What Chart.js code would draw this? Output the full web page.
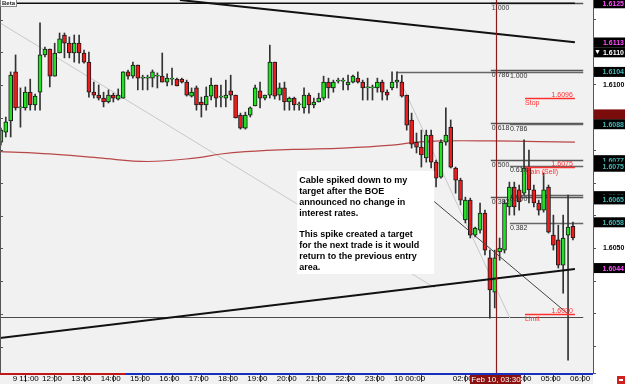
<!DOCTYPE html>
<html>
<head>
<meta charset="utf-8">
<script src="https://cdn.jsdelivr.net/npm/chart.js@4.4.1/dist/chart.umd.min.js"></script>
<style>
  html, body { margin: 0; padding: 0; background: #fff; }
  canvas { display: block; }
</style>
</head>
<body>
<canvas id="cable" width="625" height="384"></canvas>
<script>
// ===== DATA =====
// GBP/USD 10 minute candles, 9 Feb 10:40 -> 10 Feb 06:10 (x = candle number)
const opens = [
  1.60825, 1.60856, 1.60890, 1.61040, 1.60930, 1.60930, 1.60978, 1.60939, 1.60978, 1.61092,
  1.61110, 1.61027, 1.61098, 1.61153, 1.61128, 1.61098, 1.61128, 1.61098, 1.61070, 1.60978,
  1.60969, 1.60960, 1.60948, 1.60969, 1.60957, 1.60960, 1.61040, 1.61027, 1.61061, 1.61021,
  1.61021, 1.61021, 1.61027, 1.61027, 1.61009, 1.61018, 1.61018, 1.61018, 1.61009, 1.60966,
  1.60991, 1.60948, 1.60939, 1.60966, 1.61000, 1.60963, 1.60960, 1.60982, 1.60969, 1.60908,
  1.60868, 1.60908, 1.60936, 1.60982, 1.60960, 1.60969, 1.61070, 1.60969, 1.60991, 1.60948,
  1.60960, 1.60939, 1.60930, 1.60969, 1.60939, 1.60948, 1.60960, 1.61009, 1.60991, 1.61012,
  1.61012, 1.61000, 1.61009, 1.61021, 1.61009, 1.60991, 1.60991, 1.60991, 1.61009, 1.60978,
  1.60991, 1.61009, 1.61009, 1.60969, 1.60893, 1.60825, 1.60810, 1.60777, 1.60847, 1.60764,
  1.60718, 1.60825, 1.60871, 1.60746, 1.60709, 1.60587, 1.60648, 1.60541, 1.60556, 1.60608,
  1.60471, 1.60366, 1.60489, 1.60495, 1.60627, 1.60688, 1.60679, 1.60669, 1.60749, 1.60679,
  1.60639, 1.60617, 1.60688, 1.60541, 1.60526, 1.60449, 1.60541, 1.60568
];
const highs = [
  1.60868, 1.60902, 1.61040, 1.61092, 1.60991, 1.60994, 1.61018, 1.60972, 1.61190, 1.61116,
  1.61110, 1.61128, 1.61159, 1.61159, 1.61147, 1.61153, 1.61153, 1.61107, 1.61101, 1.61009,
  1.61000, 1.60978, 1.60985, 1.60975, 1.60988, 1.61040, 1.61046, 1.61070, 1.61061, 1.61030,
  1.61030, 1.61046, 1.61037, 1.61098, 1.61034, 1.61052, 1.61021, 1.61021, 1.61015, 1.60991,
  1.60997, 1.60963, 1.60994, 1.61021, 1.61000, 1.61000, 1.61015, 1.61030, 1.60969, 1.60914,
  1.60917, 1.60933, 1.61000, 1.61009, 1.60969, 1.61122, 1.61070, 1.61006, 1.61009, 1.60963,
  1.60963, 1.60948, 1.60991, 1.60975, 1.60960, 1.60975, 1.61027, 1.61021, 1.61015, 1.61021,
  1.61021, 1.61030, 1.61030, 1.61040, 1.61015, 1.61021, 1.61000, 1.61021, 1.61015, 1.60985,
  1.61040, 1.61040, 1.61030, 1.60969, 1.60914, 1.60853, 1.60862, 1.60862, 1.60862, 1.60770,
  1.60832, 1.60930, 1.60893, 1.60749, 1.60715, 1.60657, 1.60654, 1.60565, 1.60639, 1.60617,
  1.60495, 1.60495, 1.60532, 1.60648, 1.60703, 1.60703, 1.60694, 1.60832, 1.60801, 1.60694,
  1.60648, 1.60731, 1.60694, 1.60602, 1.60571, 1.60602, 1.60663, 1.60581
];
const lows = [
  1.60816, 1.60841, 1.60841, 1.60923, 1.60871, 1.60923, 1.60923, 1.60923, 1.60923, 1.61086,
  1.60994, 1.61027, 1.61098, 1.61083, 1.61083, 1.61070, 1.61067, 1.61067, 1.60963, 1.60960,
  1.60954, 1.60933, 1.60945, 1.60948, 1.60954, 1.60960, 1.61018, 1.61021, 1.60985, 1.60985,
  1.60985, 1.60994, 1.60991, 1.61009, 1.60997, 1.61000, 1.60997, 1.61006, 1.60966, 1.60963,
  1.60923, 1.60902, 1.60923, 1.60954, 1.60933, 1.60933, 1.60933, 1.60954, 1.60899, 1.60865,
  1.60865, 1.60902, 1.60936, 1.60930, 1.60954, 1.60960, 1.60957, 1.60954, 1.60923, 1.60923,
  1.60923, 1.60923, 1.60914, 1.60914, 1.60930, 1.60948, 1.60954, 1.60960, 1.60978, 1.61006,
  1.60985, 1.60985, 1.61006, 1.61006, 1.60954, 1.60954, 1.60954, 1.60978, 1.60954, 1.60954,
  1.60985, 1.60991, 1.60963, 1.60862, 1.60807, 1.60792, 1.60749, 1.60764, 1.60746, 1.60688,
  1.60715, 1.60816, 1.60746, 1.60669, 1.60633, 1.60578, 1.60532, 1.60535, 1.60547, 1.60480,
  1.60287, 1.60318, 1.60464, 1.60486, 1.60602, 1.60602, 1.60617, 1.60663, 1.60639, 1.60627,
  1.60602, 1.60611, 1.60547, 1.60495, 1.60440, 1.60363, 1.60158, 1.60526
];
const closes = [
  1.60862, 1.60887, 1.61030, 1.60930, 1.60933, 1.60978, 1.60939, 1.60966, 1.61092, 1.61110,
  1.61027, 1.61098, 1.61141, 1.61128, 1.61098, 1.61128, 1.61098, 1.61070, 1.60978, 1.60969,
  1.60960, 1.60948, 1.60969, 1.60960, 1.60969, 1.61040, 1.61027, 1.61061, 1.61021, 1.61021,
  1.61021, 1.61040, 1.61027, 1.61009, 1.61021, 1.61018, 1.60997, 1.61009, 1.60969, 1.60978,
  1.60939, 1.60939, 1.60966, 1.61000, 1.60960, 1.60963, 1.60969, 1.60969, 1.60899, 1.60868,
  1.60908, 1.60930, 1.60991, 1.60960, 1.60969, 1.61070, 1.60966, 1.60991, 1.60948, 1.60960,
  1.60939, 1.60939, 1.60969, 1.60939, 1.60948, 1.60960, 1.61009, 1.60991, 1.61009, 1.61012,
  1.61012, 1.61009, 1.61027, 1.61009, 1.60991, 1.60991, 1.60991, 1.61009, 1.60978, 1.60969,
  1.61009, 1.61015, 1.60966, 1.60877, 1.60819, 1.60810, 1.60786, 1.60847, 1.60764, 1.60715,
  1.60825, 1.60847, 1.60749, 1.60709, 1.60648, 1.60648, 1.60541, 1.60562, 1.60608, 1.60495,
  1.60373, 1.60471, 1.60501, 1.60639, 1.60688, 1.60627, 1.60642, 1.60746, 1.60679, 1.60639,
  1.60617, 1.60679, 1.60550, 1.60510, 1.60449, 1.60532, 1.60565, 1.60532
];

// hour ticks (candle index) on the time axis
const hourTicks = [2, 8, 14, 20, 26, 32, 38, 44, 50, 56, 62, 68, 74, 80, 92, 98, 104, 110, 116];
const hourLabels = ['9 11:00', '12:00', '13:00', '14:00', '15:00', '16:00', '17:00', '18:00', '19:00',
  '20:00', '21:00', '22:00', '23:00', '10 00:00', '02:00', '03:00', '04:00', '05:00', '06:00'];
const cursorIdx = 101.25;           // Feb 10, 03:30
const sessionSplitIdx = 25.4;

// price axis
const priceMin = 1.60119;
const priceMax = 1.61260;
const priceLabels = ['1.6050', '1.6100'];

// slow moving average (read at a few candles)
const maIdx  = [0, 10, 20, 30, 40, 45, 50, 60, 70, 80, 85, 90, 100, 110, 117.4];
const maVals = [1.60796, 1.60789, 1.60777, 1.60766, 1.60777, 1.60789, 1.60796, 1.60803, 1.60807,
  1.60816, 1.60825, 1.60829, 1.60829, 1.60827, 1.60825];

// drawn lines [idx, price]
const upperTrend = [[36.6, 1.61260], [117.4, 1.61131]];
const lowerTrend = [[-0.2, 1.60226], [117.4, 1.60437]];
const highLine   = [[-0.2, 1.61250], [117.4, 1.61250]];
const grayRay1   = [[-0.2, 1.61190], [88.8, 1.60379]];
const grayRay2   = [[81.6, 1.61015], [104.1, 1.60287]];
const pathLine   = [[82.7, 1.60718], [115.8, 1.60302]];

// fibonacci retracements
const fibLabels = ['1.000', '0.786', '0.618', '0.500', '0.382'];
const fibA = [1.6125, 1.61045, 1.60883, 1.6077, 1.60657];
const fibB = [1.6104, 1.6088, 1.60753, 1.60665, 1.60577];
const fibAStart = 100.2, fibBStart = 104.1, fibBTopStart = 81.0, fibEnd = 119.1;
const fibZero = 1.6029;

// orders
const orderNames  = ['Stop', 'Gain (Sell)', 'Limit'];
const orderPrices = [1.6096, 1.6075, 1.6030];
const orderFrom = 107.2, orderTo = 117.4;

// right axis price marks
const markPrices = [1.6125, 1.6113, 1.6110, 1.6104, 1.6091, 1.6088, 1.6077, 1.6075, 1.6066, 1.6065, 1.6058, 1.6044];
const markKinds  = ['hi', 'hi', 'bid', 'fib', 'ord', 'fib', 'fib', 'fib', 'fib', 'fib', 'fib', 'hi'];

// comment box
const noteAt = [60.6, 1.60737];
const noteLines = [
  'Cable spiked down to my', 'target after the BOE', 'announced no change in', 'interest rates.', '',
  'This spike created a target', 'for the next trade is it would', 'return to the previous entry', 'area.'
];

// ===== CHART =====
const GREEN = '#22e022', RED = '#ee1c1c';
const idx = opens.map((_, i) => i);
const bodyColors = idx.map(i => closes[i] >= opens[i] ? GREEN : RED);
const seg = (pts) => pts.map(p => ({ x: p[0], y: p[1] }));

function hline(ctx, x, y, x0, x1, p, color, w) {
  const py = Math.round(y.getPixelForValue(p)) + 0.5;
  ctx.strokeStyle = color; ctx.lineWidth = w;
  ctx.beginPath(); ctx.moveTo(x.getPixelForValue(x0), py); ctx.lineTo(x.getPixelForValue(x1), py); ctx.stroke();
  return py;
}

function noPad(s) {
  s.paddingTop = 0; s.paddingBottom = 0; s.paddingLeft = 0; s.paddingRight = 0;
}

const overlay = {
  id: 'overlay',
  beforeDraw(chart) {
    const { ctx, chartArea: a } = chart;
    ctx.save();
    ctx.fillStyle = '#ffffff';
    ctx.fillRect(0, 0, chart.width, chart.height);
    ctx.fillStyle = '#f1f1f1';
    ctx.fillRect(0, 0, a.right, chart.height);
    ctx.restore();
  },
  beforeDatasetsDraw(chart) {
    const { ctx, scales: { x, y } } = chart;
    ctx.save();
    fibA.forEach(p => hline(ctx, x, y, fibAStart, fibEnd, p, '#555', 1.5));
    fibB.forEach((p, i) => hline(ctx, x, y, i === 0 ? fibBTopStart : fibBStart, fibEnd, p, '#666', 1.5));
    hline(ctx, x, y, -0.2, fibEnd, fibZero, '#4a4a4a', 1.2);
    ctx.restore();
  },
  afterDatasetsDraw(chart) {
    const { ctx, scales: { x, y } } = chart;
    ctx.save();
    // fib labels
    ctx.font = '7px "Liberation Sans"';
    ctx.fillStyle = '#333';
    ctx.textBaseline = 'top';
    fibA.forEach((p, i) => ctx.fillText(fibLabels[i], x.getPixelForValue(fibAStart) + 1, y.getPixelForValue(p) + 1));
    fibB.forEach((p, i) => ctx.fillText(fibLabels[i], x.getPixelForValue(fibBStart), y.getPixelForValue(p) + 1));

    // orders
    orderPrices.forEach((p, i) => {
      const py = hline(ctx, x, y, orderFrom, orderTo, p, '#ff3030', 1.5);
      ctx.fillStyle = '#ff3030';
      ctx.font = '7px "Liberation Sans"';
      ctx.textAlign = 'right'; ctx.textBaseline = 'bottom';
      ctx.fillText(p.toFixed(4), x.getPixelForValue(orderTo) - 2, py);
      ctx.textAlign = 'left'; ctx.textBaseline = 'top';
      ctx.fillText(orderNames[i], x.getPixelForValue(orderFrom), py + 1);
    });

    // cursor line
    const cx = Math.round(x.getPixelForValue(cursorIdx)) + 0.5;
    ctx.strokeStyle = '#8b1a1a'; ctx.lineWidth = 1.2;
    ctx.beginPath(); ctx.moveTo(cx, 0); ctx.lineTo(cx, chart.height); ctx.stroke();

    // comment box
    const bx = x.getPixelForValue(noteAt[0]), by = y.getPixelForValue(noteAt[1]);
    ctx.fillStyle = '#ffffff';
    ctx.fillRect(bx, by, 137, 103);
    ctx.fillStyle = '#000';
    ctx.font = 'bold 9px "Liberation Sans"';
    ctx.textAlign = 'left'; ctx.textBaseline = 'middle';
    noteLines.forEach((t, i) => ctx.fillText(t, bx + 2, by + 10 + i * 10.8));
    ctx.restore();
  },
  afterDraw(chart) {
    const { ctx, chartArea: a, scales: { x, y } } = chart;
    ctx.save();
    // left tick marks + border
    ctx.strokeStyle = '#555'; ctx.lineWidth = 1;
    y.ticks.forEach(t => {
      const py = Math.round(y.getPixelForValue(t.value)) + 0.5;
      ctx.beginPath(); ctx.moveTo(0, py); ctx.lineTo(3, py); ctx.stroke();
    });
    ctx.beginPath(); ctx.moveTo(0.5, 0); ctx.lineTo(0.5, a.bottom); ctx.stroke();

    // session bar under the plot
    const sx = x.getPixelForValue(sessionSplitIdx);
    ctx.fillStyle = '#c01818'; ctx.fillRect(0, a.bottom, sx, 2);
    ctx.fillStyle = '#1830c0'; ctx.fillRect(sx, a.bottom, a.right - sx, 2);

    // cursor time box
    const cx = x.getPixelForValue(cursorIdx);
    ctx.fillStyle = '#8b1010';
    ctx.fillRect(cx - 26, a.bottom + 2, 51, chart.height - a.bottom - 2);
    ctx.fillStyle = '#fff';
    ctx.font = '8px "Liberation Sans"';
    ctx.textAlign = 'center'; ctx.textBaseline = 'middle';
    ctx.fillText('Feb 10, 03:30', cx, a.bottom + 6.5);

    // right axis marks
    ctx.font = 'bold 7px "Liberation Sans"';
    ctx.textAlign = 'right';
    markPrices.forEach((p, i) => {
      const py = y.getPixelForValue(p);
      const k = markKinds[i];
      ctx.fillStyle = k === 'ord' ? '#7a0c0c' : '#000';
      ctx.fillRect(a.right + 1, py - 5, chart.width - a.right - 1, 10);
      if (k === 'ord') return;
      ctx.fillStyle = k === 'hi' ? '#ff4cff' : k === 'bid' ? '#ffffff' : '#45b5b5';
      ctx.fillText(p.toFixed(4), chart.width - 1, py + 0.5);
      if (k === 'bid') ctx.fillText('\u25BC', a.right + 8, py);
    });

    // top-left tag
    ctx.fillStyle = '#fff'; ctx.fillRect(0, 0, 17, 7);
    ctx.strokeStyle = '#888'; ctx.strokeRect(0.5, -0.5, 16, 7);
    ctx.fillStyle = '#222'; ctx.font = 'bold 6px "Liberation Sans"';
    ctx.textAlign = 'left'; ctx.textBaseline = 'middle';
    ctx.fillText('Beta', 2, 3);

    // corner icon
    ctx.fillStyle = '#d02020'; ctx.fillRect(chart.width - 8, chart.height - 8, 8, 8);
    ctx.fillStyle = '#fff'; ctx.fillRect(chart.width - 6, chart.height - 5, 4, 2);
    ctx.restore();
  }
};

new Chart(document.getElementById('cable'), {
  type: 'bar',
  data: {
    datasets: [
      {
        type: 'line', data: seg(grayRay1), borderColor: '#c8c8c8', borderWidth: 1,
        pointRadius: 0, order: 9
      },
      {
        type: 'line', data: seg(grayRay2), borderColor: '#c8c8c8', borderWidth: 1,
        pointRadius: 0, order: 9
      },
      {
        type: 'line', data: maIdx.map((v, i) => ({ x: v, y: maVals[i] })),
        borderColor: '#b84848', borderWidth: 1.2, pointRadius: 0, tension: 0.4, order: 8
      },
      {
        data: idx.map(i => ({ x: i, y: [lows[i], highs[i]] })),
        backgroundColor: '#333', barThickness: 1, grouped: false, order: 5
      },
      {
        data: idx.map(i => ({ x: i, y: [opens[i], closes[i]] })),
        backgroundColor: bodyColors, borderColor: '#1a1a1a', borderWidth: 1, borderSkipped: false,
        barThickness: 4, minBarLength: 1, grouped: false, order: 4
      },
      {
        type: 'line', data: seg(pathLine), borderColor: '#444', borderWidth: 1,
        pointRadius: 0, order: 3
      },
      {
        type: 'line', data: seg(highLine), borderColor: '#111', borderWidth: 1.5,
        pointRadius: 0, order: 2
      },
      {
        type: 'line', data: seg(upperTrend), borderColor: '#111', borderWidth: 2,
        pointRadius: 0, order: 2
      },
      {
        type: 'line', data: seg(lowerTrend), borderColor: '#111', borderWidth: 2,
        pointRadius: 0, order: 2
      }
    ]
  },
  options: {
    responsive: false,
    animation: false,
    layout: { padding: 0, autoPadding: false },
    plugins: { legend: { display: false }, tooltip: { enabled: false } },
    scales: {
      x: {
        type: 'linear', min: -0.184, max: 121.1, offset: false,
        afterFit: s => { s.height = 11; noPad(s); },
        afterBuildTicks: s => { s.ticks = hourTicks.map(v => ({ value: v })); },
        border: { display: false },
        grid: { drawOnChartArea: false, drawTicks: true, tickLength: 9, color: '#444' },
        ticks: {
          autoSkip: false, maxRotation: 0, align: 'start', labelOffset: 2, padding: -8,
          color: '#000', font: { family: 'Liberation Sans', size: 8 },
          callback: (v, i) => hourLabels[i]
        }
      },
      y: {
        position: 'right', min: priceMin, max: priceMax,
        afterFit: s => { s.width = 32; noPad(s); },
        border: { display: true, color: '#555' },
        grid: { drawOnChartArea: false, tickLength: 3, color: '#555' },
        ticks: {
          stepSize: 0.001, padding: 7, color: '#000',
          font: { family: 'Liberation Sans', size: 7, weight: 'bold' },
          callback: v => priceLabels.includes(v.toFixed(4)) ? v.toFixed(4) : ''
        }
      }
    }
  },
  plugins: [overlay]
});
</script>
</body>
</html>
